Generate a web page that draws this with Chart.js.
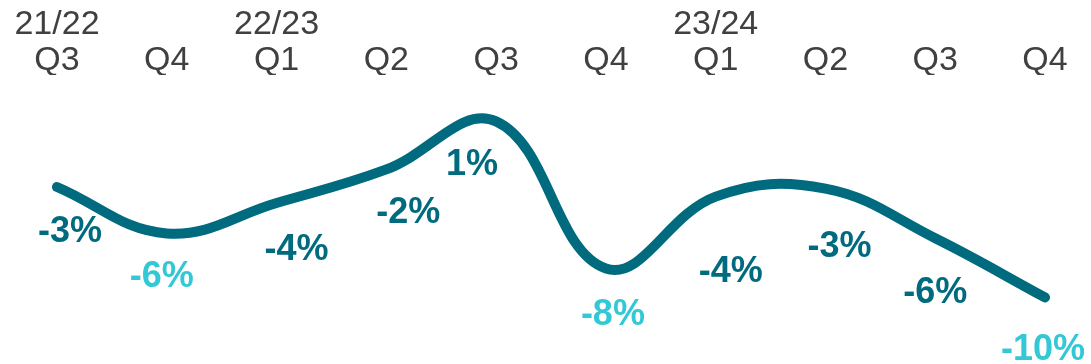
<!DOCTYPE html>
<html>
<head>
<meta charset="utf-8">
<script src="https://cdn.jsdelivr.net/npm/chart.js@4/dist/chart.umd.min.js"></script>
<style>
html,body{margin:0;padding:0;background:#fff;}
#wrap{width:1091px;height:364px;position:relative;}
</style>
</head>
<body>
<div id="wrap"><canvas id="c"></canvas></div>
<script>
// Data
const fiscalYears = ['21/22', '', '22/23', '', '', '', '23/24', '', '', ''];
const quarters = ['Q3', 'Q4', 'Q1', 'Q2', 'Q3', 'Q4', 'Q1', 'Q2', 'Q3', 'Q4'];
const growth = [-3.0, -5.9, -4.0, -1.9, 1.1, -8.1, -3.6, -3.1, -6.2, -9.9];
const growthLabels = ['-3%', '-6%', '-4%', '-2%', '1%', '-8%', '-4%', '-3%', '-6%', '-10%'];

// Styling (label colours and nudges relative to each point)
const DARK = '#006a7e';
const LIGHT = '#33c8d5';
const labelColors = [DARK, LIGHT, DARK, DARK, DARK, LIGHT, DARK, DARK, DARK, LIGHT];
const labelDx = [13, -5, 20, 22, -24, 7, 15, 14, 0, -2];
const labelDy = [45, 44, 47, 44, 44, 46, 75, 58, 55, 53];

const categories = quarters.map((q, i) => [fiscalYears[i], q]);

const pointLabels = {
  id: 'pointLabels',
  afterDatasetsDraw(chart) {
    const ctx = chart.ctx;
    const meta = chart.getDatasetMeta(0);
    ctx.save();
    ctx.font = 'bold 36px "Liberation Sans", Arial, sans-serif';
    ctx.textAlign = 'center';
    ctx.textBaseline = 'middle';
    meta.data.forEach((pt, i) => {
      ctx.fillStyle = labelColors[i];
      ctx.fillText(growthLabels[i], pt.x + labelDx[i], pt.y + labelDy[i]);
    });
    ctx.restore();
  }
};

new Chart(document.getElementById('c'), {
  type: 'line',
  data: {
    labels: categories,
    datasets: [{
      data: growth,
      borderColor: DARK,
      borderWidth: 10,
      borderCapStyle: 'round',
      borderJoinStyle: 'round',
      tension: 0.4,
      pointRadius: 0,
      pointHoverRadius: 0,
      fill: false
    }]
  },
  options: {
    responsive: true,
    maintainAspectRatio: false,
    animation: false,
    events: [],
    layout: { padding: { left: 57, right: 46, top: 0, bottom: 33 } },
    plugins: { legend: { display: false }, tooltip: { enabled: false } },
    scales: {
      x: {
        position: 'top',
        offset: false,
        grid: { display: false, drawTicks: false, tickLength: 0 },
        border: { display: false },
        ticks: {
          color: '#404040',
          font: { family: '"Liberation Sans", Arial, sans-serif', size: 34, lineHeight: 1.06 },
          padding: -4,
          maxRotation: 0,
          autoSkip: false
        },
        afterFit(scale) { scale.height = 75; }
      },
      y: {
        display: false,
        min: -12,
        max: 4
      }
    }
  },
  plugins: [pointLabels]
});
</script>
</body>
</html>
